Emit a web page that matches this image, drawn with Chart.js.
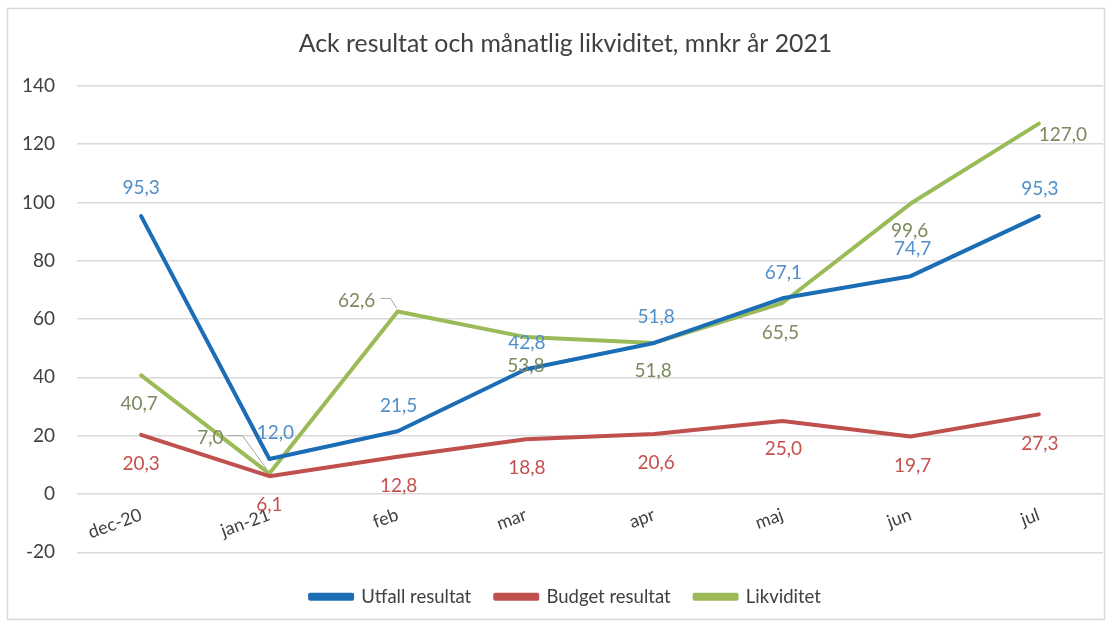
<!DOCTYPE html>
<html>
<head>
<meta charset="utf-8">
<script src="https://cdn.jsdelivr.net/npm/chart.js@4/dist/chart.umd.min.js"></script>
<style>
  body { margin: 0; background: #fff; }
  #wrap { position: relative; width: 1112px; height: 626px; }
</style>
</head>
<body>
<div id="wrap"><canvas id="line-chart" width="1112" height="626"></canvas></div>
<script>
let months = ["dec-20", "jan-21", "feb", "mar", "apr", "maj", "jun", "jul"];
let utfall = [95.3, 12.0, 21.5, 42.8, 51.8, 67.1, 74.7, 95.3];
let budget = [20.3, 6.1, 12.8, 18.8, 20.6, 25.0, 19.7, 27.3];
let likviditet = [40.7, 7.0, 62.6, 53.8, 51.8, 65.5, 99.6, 127.0];
let yTicks = [-20, 0, 20, 40, 60, 80, 100, 120, 140];

let font = "Lato, 'Open Sans', sans-serif";

// where each value label sits relative to its point (px)
let labelPos = [
    [[0, -28], [6, -26], [1, -25], [1, -26], [2, -26], [1, -25], [2, -27], [1, -27]],
    [[0, 29], [0, 29], [1, 29], [1, 29], [2, 29], [1, 28], [2, 29], [1, 29]],
    [[-2, 29], [-59, -36], [-41, -11], [0, 29], [-1, 28], [-2, 30], [-1, 27], [24, 11]]
];
let labelColors = ["#4f8fca", "#c4504e", "#7b8a5e"];
// leader lines for the moved labels: [dataset, index, polyline relative to point]
let leaders = [
    [2, 1, [[-42, -38], [-27, -38], [-3, -5]]],
    [2, 2, [[-17, -13], [-7, -13], [-1, -3]]]
];

const valueLabels = {
    id: "valueLabels",
    afterDatasetsDraw(chart) {
        let ctx = chart.ctx;
        ctx.save();
        ctx.strokeStyle = "#a6a6a6";
        ctx.lineWidth = 1;
        leaders.forEach(l => {
            let p = chart.getDatasetMeta(l[0]).data[l[1]];
            ctx.beginPath();
            l[2].forEach((o, k) => {
                if (k == 0) ctx.moveTo(p.x + o[0], p.y + o[1]);
                else ctx.lineTo(p.x + o[0], p.y + o[1]);
            });
            ctx.stroke();
        });
        ctx.font = "19px " + font;
        ctx.textAlign = "center";
        ctx.textBaseline = "middle";
        chart.data.datasets.forEach((ds, i) => {
            let meta = chart.getDatasetMeta(i);
            ctx.fillStyle = labelColors[i];
            meta.data.forEach((p, j) => {
                let txt = ds.data[j].toFixed(1).replace(".", ",");
                ctx.fillText(txt, p.x + labelPos[i][j][0], p.y + labelPos[i][j][1]);
            });
        });
        ctx.restore();
    }
};

const frame = {
    id: "frame",
    afterLayout(chart) {
        // let the y tick labels use the space left of the padding
        chart.scales.y.left = 0;
    },
    beforeDraw(chart) {
        let ctx = chart.ctx;
        ctx.save();
        ctx.fillStyle = "#fff";
        ctx.fillRect(0, 0, chart.width, chart.height);
        ctx.strokeStyle = "#d9d9d9";
        ctx.lineWidth = 1.5;
        ctx.strokeRect(7.5, 8.5, 1097, 611);
        ctx.restore();
    }
};

new Chart(document.getElementById("line-chart"), {
    type: "line",
    data: {
        labels: months,
        datasets: [{
            label: "Utfall resultat",
            data: utfall,
            borderColor: "#1b6db5",
            backgroundColor: "#1b6db5"
        }, {
            label: "Budget resultat",
            data: budget,
            borderColor: "#c0504d",
            backgroundColor: "#c0504d"
        }, {
            label: "Likviditet",
            data: likviditet,
            borderColor: "#9bbb59",
            backgroundColor: "#9bbb59"
        }]
    },
    options: {
        responsive: false,
        animation: false,
        devicePixelRatio: 1,
        elements: {
            line: { borderWidth: 4, tension: 0, borderCapStyle: "round", borderJoinStyle: "round" },
            point: { radius: 0 }
        },
        layout: { padding: { left: 28, right: 9, top: 17, bottom: 10 } },
        plugins: {
            title: {
                display: true,
                text: "Ack resultat och månatlig likviditet, mnkr år 2021",
                color: "#404040",
                font: { family: font, size: 24.8, weight: "normal" },
                padding: { top: 12, bottom: 27 }
            },
            legend: {
                position: "bottom",
                title: {
                    display: true,
                    text: " ",
                    font: { size: 1 },
                    padding: { top: 0, bottom: 10 }
                },
                labels: {
                    color: "#404040",
                    font: { family: font, size: 18.5 },
                    boxWidth: 42,
                    boxHeight: 4,
                    padding: 24
                }
            },
            tooltip: { enabled: false }
        },
        scales: {
            x: {
                position: { y: 0 },
                offset: true,
                afterFit(scale) {
                    scale.paddingLeft = 0;
                    scale.paddingRight = 0;
                },
                grid: { display: false, offset: true },
                border: { display: false },
                ticks: {
                    color: "#404040",
                    font: { family: font, size: 18 },
                    minRotation: 20,
                    maxRotation: 20,
                    padding: 2
                }
            },
            y: {
                min: -20,
                max: 140,
                afterBuildTicks(axis) {
                    axis.ticks = yTicks.map(v => ({ value: v }));
                },
                afterFit(scale) {
                    scale.width = 49;
                },
                grid: { color: "#d9d9d9", lineWidth: 1.5, drawTicks: false },
                border: { display: false },
                ticks: {
                    color: "#404040",
                    font: { family: font, size: 19 },
                    padding: 22
                }
            }
        }
    },
    plugins: [frame, valueLabels]
});
</script>
</body>
</html>
